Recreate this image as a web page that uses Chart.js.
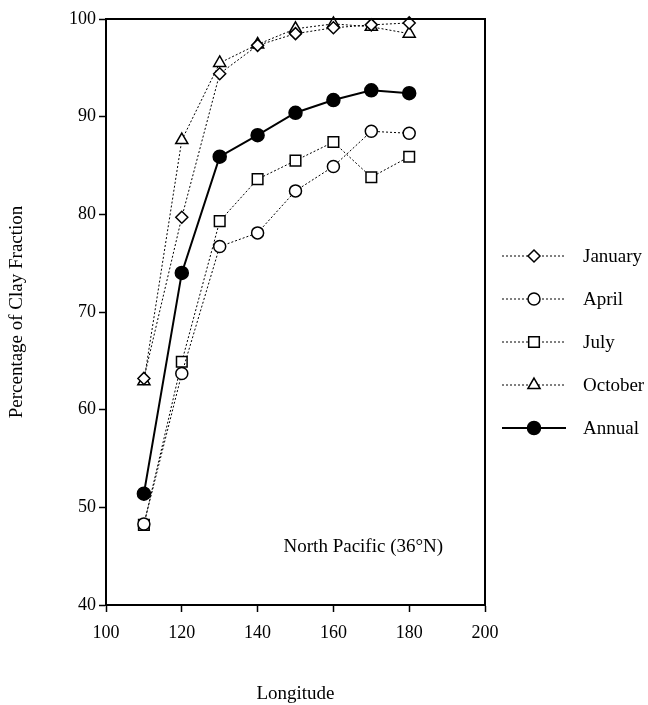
<!DOCTYPE html>
<html>
<head>
<meta charset="utf-8">
<script src="https://cdn.jsdelivr.net/npm/chart.js@4/dist/chart.umd.min.js"></script>
<style>
  html, body { margin: 0; padding: 0; background: #fff; }
  #wrap { width: 648px; height: 705px; position: relative; }
</style>
</head>
<body>
<div id="wrap"><canvas id="clayChart"></canvas></div>
<script>
// Longitude of the stations
const longitudes = [110, 120, 130, 140, 150, 160, 170, 180];

// Percentage of clay fraction per season
const january = [63.2, 79.7, 94.4, 97.3, 98.5, 99.1, 99.4, 99.6];
const april   = [48.3, 63.7, 76.7, 78.1, 82.4, 84.9, 88.5, 88.3];
const july    = [48.2, 64.9, 79.3, 83.6, 85.5, 87.4, 83.8, 85.9];
const october = [62.9, 87.6, 95.5, 97.4, 99.0, 99.5, 99.2, 98.5];
const annual  = [51.4, 74.0, 85.9, 88.1, 90.4, 91.7, 92.7, 92.4];

const xTicks = [100, 120, 140, 160, 180, 200];
const yTicks = [40, 50, 60, 70, 80, 90, 100];

const FONT = '"Liberation Serif", "Times New Roman", serif';

const pts = arr => arr.map((v, i) => ({ x: longitudes[i], y: v }));

function seriesStyle(label, data, shape, dashed, radius) {
    return {
        label: label,
        data: pts(data),
        borderColor: '#000',
        borderWidth: dashed ? 1 : 2,
        borderDash: dashed ? [2, 2] : [],
        pointStyle: shape,
        pointRadius: radius,
        pointBorderWidth: 1.5,
        pointBackgroundColor: dashed ? '#fff' : '#000',
        pointBorderColor: '#000',
        fill: false,
        tension: 0,
        clip: false
    };
}

// draw a marker by hand for the legend
function marker(ctx, ds, x, y) {
    const r = ds.pointRadius;
    ctx.save();
    ctx.setLineDash([]);
    ctx.lineWidth = ds.pointBorderWidth;
    ctx.strokeStyle = '#000';
    ctx.fillStyle = ds.pointBackgroundColor;
    ctx.beginPath();
    if (ds.pointStyle === 'circle') {
        ctx.arc(x, y, r, 0, Math.PI * 2);
    } else if (ds.pointStyle === 'rect') {
        const s = r * Math.SQRT1_2;
        ctx.rect(x - s, y - s, 2 * s, 2 * s);
    } else if (ds.pointStyle === 'rectRot') {
        ctx.moveTo(x, y - r); ctx.lineTo(x + r, y); ctx.lineTo(x, y + r); ctx.lineTo(x - r, y);
        ctx.closePath();
    } else if (ds.pointStyle === 'triangle') {
        ctx.moveTo(x, y - r); ctx.lineTo(x + r * 0.866, y + r * 0.5); ctx.lineTo(x - r * 0.866, y + r * 0.5);
        ctx.closePath();
    }
    ctx.fill();
    ctx.stroke();
    ctx.restore();
}

const decorPlugin = {
    id: 'decor',
    afterDraw(chart) {
        const ctx = chart.ctx;
        const a = chart.chartArea;
        // top and right frame
        ctx.save();
        ctx.strokeStyle = '#000';
        ctx.lineWidth = 2;
        ctx.beginPath();
        ctx.moveTo(a.left, a.top); ctx.lineTo(a.right, a.top); ctx.lineTo(a.right, a.bottom);
        ctx.stroke();

        // region label
        ctx.fillStyle = '#000';
        ctx.font = '19px ' + FONT;
        ctx.textAlign = 'center';
        ctx.textBaseline = 'middle';
        ctx.fillText('North Pacific (36°N)',
            chart.scales.x.getPixelForValue(167.9),
            chart.scales.y.getPixelForValue(45.9));

        // legend
        const rows = [256, 299, 342, 385, 428];
        chart.data.datasets.forEach((ds, i) => {
            const y = rows[i];
            ctx.save();
            ctx.strokeStyle = '#000';
            ctx.lineWidth = ds.borderWidth;
            ctx.setLineDash(ds.borderDash);
            ctx.beginPath();
            ctx.moveTo(502, y); ctx.lineTo(566, y);
            ctx.stroke();
            ctx.restore();
            marker(ctx, ds, 534, y);
            ctx.fillStyle = '#000';
            ctx.textAlign = 'left';
            ctx.fillText(ds.label, 583, y + 1);
        });
        ctx.restore();
    }
};

new Chart(document.getElementById('clayChart'), {
    type: 'line',
    data: {
        datasets: [
            seriesStyle('January', january, 'rectRot', true, 6),
            seriesStyle('April', april, 'circle', true, 6),
            seriesStyle('July', july, 'rect', true, 7.5),
            seriesStyle('October', october, 'triangle', true, 7),
            seriesStyle('Annual', annual, 'circle', false, 6.5)
        ]
    },
    options: {
        responsive: true,
        maintainAspectRatio: false,
        animation: false,
        layout: { padding: { top: 19, right: 163, left: 0, bottom: 0 } },
        plugins: {
            legend: { display: false },
            tooltip: { enabled: false }
        },
        scales: {
            x: {
                type: 'linear',
                min: 100,
                max: 200,
                afterBuildTicks: s => { s.ticks = xTicks.map(v => ({ value: v })); },
                afterFit: s => { s.height = 100; },
                grid: { drawOnChartArea: false, drawTicks: true, tickLength: 7, tickColor: '#000', tickWidth: 1.5 },
                border: { display: true, color: '#000', width: 2 },
                ticks: { color: '#000', font: { family: FONT, size: 18 }, padding: 10, maxRotation: 0 },
                title: {
                    display: true,
                    text: 'Longitude',
                    color: '#000',
                    font: { family: FONT, size: 19 },
                    padding: { top: 30, bottom: 0 }
                }
            },
            y: {
                min: 40,
                max: 100,
                afterBuildTicks: s => { s.ticks = yTicks.map(v => ({ value: v })); },
                afterFit: s => { s.width = 106; },
                grid: { drawOnChartArea: false, drawTicks: true, tickLength: 7, tickColor: '#000', tickWidth: 1.5 },
                border: { display: true, color: '#000', width: 2 },
                ticks: { color: '#000', font: { family: FONT, size: 18 }, padding: 3 },
                title: {
                    display: true,
                    text: 'Percentage of Clay Fraction',
                    color: '#000',
                    font: { family: FONT, size: 19 },
                    padding: { top: 6, bottom: 0 }
                }
            }
        }
    },
    plugins: [decorPlugin]
});
</script>
</body>
</html>
